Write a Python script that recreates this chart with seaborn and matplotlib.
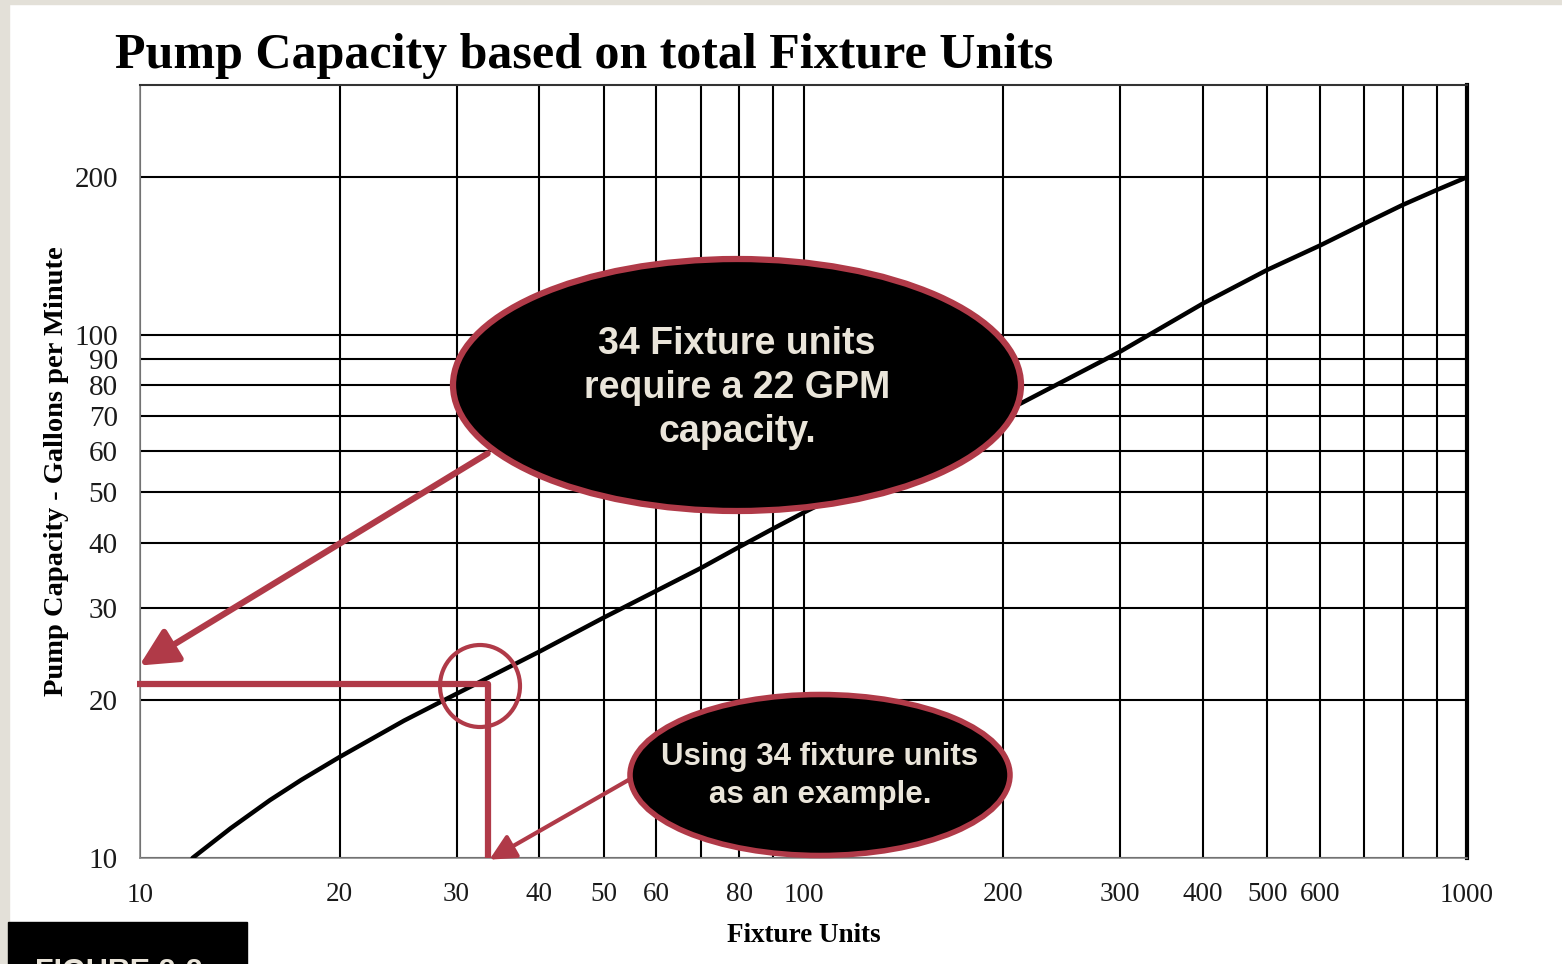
import matplotlib
matplotlib.use("Agg")
import matplotlib.pyplot as plt
import seaborn as sns
import pandas as pd
from matplotlib.patches import Ellipse, Rectangle
from matplotlib.ticker import NullLocator

# values
fixture_units = [12, 13.7, 15.7, 17.5, 20, 25, 30, 40, 50, 60, 70, 80, 90, 100,
                 200, 300, 400, 500, 600, 700, 800, 900, 1000]
gpm = [10.0, 11.4, 12.9, 14.1, 15.6, 18.3, 20.6, 24.8, 28.8, 32.4, 35.8, 39.3, 42.6, 45.7,
       71.0, 92.8, 114.7, 133.0, 148.0, 163.0, 177.0, 189.0, 200.0]

x_major = [10, 100, 1000]
x_minor = [20, 30, 40, 50, 60, 70, 80, 90, 200, 300, 400, 500, 600, 700, 800, 900]
x_minor_labels = ["20", "30", "40", "50", "60", "", "80", "", "200", "300",
                  "400", "500", "600", "", "", ""]
y_ticks = [10, 20, 30, 40, 50, 60, 70, 80, 90, 100, 200]

example_fu_line = 33.5   # where the red guide meets the curve
example_gpm_line = 21.5

title = "Pump Capacity based on total Fixture Units"
note_big = "34 Fixture units\nrequire a 22 GPM\ncapacity."
note_small = "Using 34 fixture units\nas an example."

RED = "#B03A48"
CREAM = "#EAE5DA"
W, H = 1562, 964

sns.set_theme(style="white")
plt.rcParams["font.family"] = ["Liberation Serif", "DejaVu Serif"]
plt.rcParams["text.color"] = "black"
plt.rcParams["axes.labelcolor"] = "black"
plt.rcParams["xtick.labelcolor"] = "#1a1a1a"
plt.rcParams["ytick.labelcolor"] = "#1a1a1a"


def fp(x, y):
    # image pixel -> figure fraction
    return x / W, 1 - y / H


fig = plt.figure(figsize=(W / 100, H / 100), dpi=100)
ax = fig.add_axes([140 / W, 1 - 858 / H, 1327 / W, 773 / H])

df = pd.DataFrame({"fu": fixture_units, "gpm": gpm})
sns.lineplot(data=df, x="fu", y="gpm", ax=ax, color="black", lw=3.2, zorder=3)
ax.lines[-1].set_solid_joinstyle("round")

ax.set_xscale("log")
ax.set_yscale("log")
ax.set_xlim(10, 1000)
ax.set_ylim(10, 300)

ax.set_xticks(x_major, [str(v) for v in x_major])
ax.set_xticks(x_minor, x_minor_labels, minor=True)
ax.set_yticks(y_ticks, [str(v) for v in y_ticks])
ax.yaxis.set_minor_locator(NullLocator())
ax.tick_params(axis="x", which="major", length=6, width=1, color="#888888",
               direction="out", pad=12, labelsize=19.5)
ax.tick_params(axis="x", which="minor", length=0, pad=17, labelsize=19.5)
ax.tick_params(axis="y", length=6, width=1, color="#888888", direction="out",
               pad=10, labelsize=21)
ax.grid(True, which="both", color="black", lw=1.5)

for s in ["left", "bottom"]:
    ax.spines[s].set_color("#8a8a8a")
    ax.spines[s].set_linewidth(1.2)
ax.spines["top"].set_color("#333333")
ax.spines["top"].set_linewidth(1.5)
ax.spines["right"].set_color("black")
ax.spines["right"].set_linewidth(3)

ax.set_xlabel("Fixture Units", fontsize=19.5, fontweight="bold", labelpad=11)
ax.set_ylabel("Pump Capacity - Gallons per Minute", fontsize=20.5,
              fontweight="bold", labelpad=4)

fig.text(*fp(115, 56), title, fontsize=36, fontweight="bold", va="center",
         ha="left")

# slide frame
fig.patches.append(Rectangle((0, 0), 9 / W, 1, transform=fig.transFigure,
                             color="#E3E0D8", zorder=0))
fig.patches.append(Rectangle((0, 1 - 4 / H), 1, 4 / H, transform=fig.transFigure,
                             color="#E3E0D8", zorder=0))
fig.patches.append(Rectangle(fp(8, 964), 239 / W, 42 / H, transform=fig.transFigure,
                             color="black", zorder=5))
fig.text(*fp(35, 958), "FIGURE 2-2", fontsize=22, fontweight="bold",
         color=CREAM, family=["Liberation Sans"], va="top", ha="left", zorder=6)

# red guide lines at the example point
ax.plot([9.9, example_fu_line], [example_gpm_line, example_gpm_line], color=RED,
        lw=4.5, clip_on=False, zorder=4, solid_capstyle="butt")
ax.plot([example_fu_line, example_fu_line], [example_gpm_line, 10], color=RED,
        lw=4.5, zorder=4, solid_joinstyle="miter")
ax.add_patch(Ellipse(fp(480, 686), 80 / W, 82 / H, transform=fig.transFigure,
                     fill=False, ec=RED, lw=3, zorder=5))

# callouts
ax.annotate("", xy=fp(137, 667), xytext=fp(490, 452), xycoords="figure fraction",
            textcoords="figure fraction",
            arrowprops=dict(arrowstyle="-|>,head_length=1.9,head_width=0.95",
                            color=RED, lw=4.5), zorder=6)
ax.annotate("", xy=fp(487, 861), xytext=fp(632, 778), xycoords="figure fraction",
            textcoords="figure fraction",
            arrowprops=dict(arrowstyle="-|>,head_length=1.3,head_width=0.65",
                            color=RED, lw=3), zorder=6)

fig.patches.append(Ellipse(fp(737, 385), 568 / W, 252 / H, transform=fig.transFigure,
                           fc="black", ec=RED, lw=4.5, zorder=7))
fig.patches.append(Ellipse(fp(820, 775), 380 / W, 161 / H, transform=fig.transFigure,
                           fc="black", ec=RED, lw=4, zorder=7))
fig.text(*fp(737, 388), note_big, fontsize=27, fontweight="bold", color=CREAM,
         family=["Liberation Sans"], ha="center", va="center",
         linespacing=1.3, zorder=8)
fig.text(*fp(820, 776), note_small, fontsize=22.5, fontweight="bold", color=CREAM,
         family=["Liberation Sans"], ha="center", va="center",
         linespacing=1.35, zorder=8)

fig.savefig("out.png", dpi=100)
